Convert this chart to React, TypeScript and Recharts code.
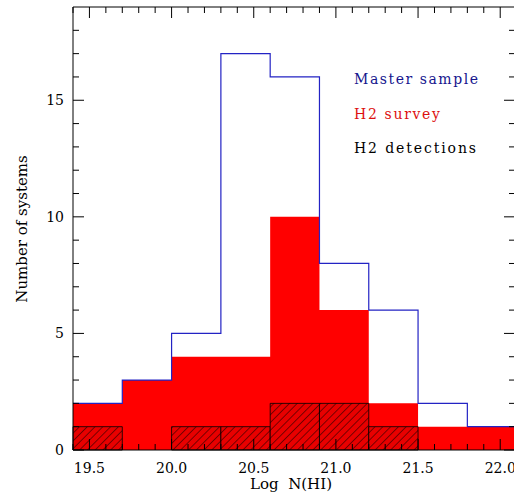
import { ComposedChart, Area, Line, XAxis, YAxis, ReferenceArea } from "recharts";

// histogram bins (left edges), 0.3 dex wide
const binEdges = [19.4, 19.7, 20.0, 20.3, 20.6, 20.9, 21.2, 21.5, 21.8];
const binWidth = 0.3;
const masterSample = [2, 3, 5, 17, 16, 8, 6, 2, 1];
const h2Survey = [2, 3, 4, 4, 10, 6, 2, 1, 1];
const h2Detections = [1, 0, 1, 1, 2, 2, 1, 0, 0];

const xMajorTicks = [19.5, 20.0, 20.5, 21.0, 21.5, 22.0];
const xMinorTicks = [
  19.4, 19.5, 19.6, 19.7, 19.8, 19.9, 20.0, 20.1, 20.2, 20.3, 20.4, 20.5, 20.6, 20.7,
  20.8, 20.9, 21.0, 21.1, 21.2, 21.3, 21.4, 21.5, 21.6, 21.7, 21.8, 21.9, 22.0,
];
const yMajorTicks = [0, 5, 10, 15];
const yMinorTicks = [0, 1, 2, 3, 4, 5, 6, 7, 8, 9, 10, 11, 12, 13, 14, 15, 16, 17, 18];

const X_DOMAIN: [number, number] = [19.4, 22.09];
const Y_DOMAIN: [number, number] = [0, 19];

// step data: one point per bin edge, plus a closing point past the right edge
const stepData = [
  ...binEdges.map((x, i) => ({ x, master: masterSample[i], survey: h2Survey[i] })),
  {
    x: binEdges[binEdges.length - 1] + binWidth,
    master: masterSample[masterSample.length - 1],
    survey: h2Survey[h2Survey.length - 1],
  },
];

const serif = "'DejaVu Serif', serif";

const isMajorX = (v: number) => xMajorTicks.some((m) => Math.abs(m - v) < 1e-6);
const isMajorY = (v: number) => yMajorTicks.includes(v);

const MAJOR = 11;
const MINOR = 6;

function BottomTick(props: any) {
  const { x, y, payload } = props;
  const major = isMajorX(payload.value);
  return (
    <g>
      <line x1={x} y1={y} x2={x} y2={y - (major ? MAJOR : MINOR)} stroke="#000" strokeWidth={1} />
      {major && (
        <text x={x} y={y + 23} textAnchor="middle" fontFamily={serif} fontSize={14} fill="#000">
          {payload.value.toFixed(1)}
        </text>
      )}
    </g>
  );
}

function TopTick(props: any) {
  const { x, y, payload } = props;
  const major = isMajorX(payload.value);
  return <line x1={x} y1={y} x2={x} y2={y + (major ? MAJOR : MINOR)} stroke="#000" strokeWidth={1} />;
}

function LeftTick(props: any) {
  const { x, y, payload } = props;
  const major = isMajorY(payload.value);
  return (
    <g>
      <line x1={x} y1={y} x2={x + (major ? MAJOR : MINOR)} y2={y} stroke="#000" strokeWidth={1} />
      {major && (
        <text x={x - 9} y={y + 5} textAnchor="end" fontFamily={serif} fontSize={14} fill="#000">
          {payload.value}
        </text>
      )}
    </g>
  );
}

function RightTick(props: any) {
  const { x, y, payload } = props;
  const major = isMajorY(payload.value);
  return <line x1={x} y1={y} x2={x - (major ? MAJOR : MINOR)} y2={y} stroke="#000" strokeWidth={1} />;
}

const legendItems = [
  { label: "Master sample", color: "#16168e", width: 124 },
  { label: "H2 survey", color: "#dd0f0f", width: 86 },
  { label: "H2 detections", color: "#000", width: 122 },
];

export default function App() {
  return (
    <div style={{ position: "absolute", left: 0, top: 0, width: 514, height: 496, overflow: "hidden", background: "#fff" }}>
      <ComposedChart
        width={520}
        height={496}
        data={stepData}
        margin={{ top: 6, right: 4, bottom: 45, left: 72 }}
      >
        <defs>
          <pattern id="hatch" patternUnits="userSpaceOnUse" width={5.5} height={5.5} patternTransform="rotate(45)">
            <rect width={5.5} height={5.5} fill="#e80000" />
            <line x1={0} y1={0} x2={0} y2={5.5} stroke="#300000" strokeWidth={1.2} />
          </pattern>
        </defs>

        <Area
          xAxisId="b"
          yAxisId="l"
          type="stepAfter"
          dataKey="survey"
          stroke="none"
          fill="#ff0000"
          fillOpacity={1}
          isAnimationActive={false}
        />

        {binEdges.map((x, i) =>
          h2Detections[i] > 0 ? (
            <ReferenceArea
              key={x}
              xAxisId="b"
              yAxisId="l"
              x1={x}
              x2={x + binWidth}
              y1={0}
              y2={h2Detections[i]}
              fill="url(#hatch)"
              fillOpacity={1}
              stroke="#000"
              strokeWidth={0.8}
            />
          ) : null
        )}

        <Line
          xAxisId="b"
          yAxisId="l"
          type="stepAfter"
          dataKey="master"
          stroke="#2323c4"
          strokeWidth={1.2}
          dot={false}
          isAnimationActive={false}
        />

        <XAxis
          xAxisId="b"
          dataKey="x"
          type="number"
          domain={X_DOMAIN}
          allowDataOverflow
          ticks={xMinorTicks}
          interval={0}
          height={1}
          tickSize={0}
          tickMargin={0}
          tickLine={false}
          axisLine={{ stroke: "#000" }}
          tick={<BottomTick />}
        />
        <XAxis
          xAxisId="t"
          orientation="top"
          dataKey="x"
          type="number"
          domain={X_DOMAIN}
          allowDataOverflow
          ticks={xMinorTicks}
          interval={0}
          height={1}
          tickSize={0}
          tickMargin={0}
          tickLine={false}
          axisLine={{ stroke: "#000" }}
          tick={<TopTick />}
        />
        <YAxis
          yAxisId="l"
          type="number"
          domain={Y_DOMAIN}
          allowDataOverflow
          ticks={yMinorTicks}
          interval={0}
          width={1}
          tickSize={0}
          tickMargin={0}
          tickLine={false}
          axisLine={{ stroke: "#000" }}
          tick={<LeftTick />}
        />
        <YAxis
          yAxisId="r"
          orientation="right"
          type="number"
          domain={Y_DOMAIN}
          allowDataOverflow
          ticks={yMinorTicks}
          interval={0}
          width={1}
          tickSize={0}
          tickMargin={0}
          tickLine={false}
          axisLine={{ stroke: "#000" }}
          tick={<RightTick />}
        />

        {legendItems.map((item, i) => (
          <text
            key={item.label}
            x={354}
            y={84 + i * 34.5}
            fontFamily={serif}
            fontSize={14}
            fill={item.color}
            textLength={item.width}
            lengthAdjust="spacing"
            style={{ whiteSpace: "pre" }}
          >
            {item.label}
          </text>
        ))}

        <text x={291} y={489} textAnchor="middle" fontFamily={serif} fontSize={15} fill="#000" style={{ whiteSpace: "pre" }}>
          {"Log  N(HI)"}
        </text>
        <text
          x={0}
          y={0}
          transform="translate(27 229) rotate(-90)"
          textAnchor="middle"
          fontFamily={serif}
          fontSize={15}
          fill="#000"
        >
          Number of systems
        </text>
      </ComposedChart>
    </div>
  );
}
